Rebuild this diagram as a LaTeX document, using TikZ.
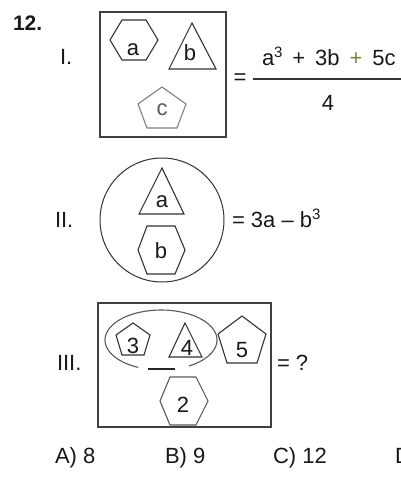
\documentclass[tikz,border=0pt]{standalone}
\usepackage{fontspec}
\setmainfont{Liberation Sans}
\begin{document}
\begin{tikzpicture}[x=1pt,y=-1pt,
  txt/.style={inner sep=0pt,outer sep=0pt,anchor=base,text=black!90,font=\fontsize{22}{26}\selectfont},
  txtl/.style={txt,anchor=base west},
  frame/.style={draw=black!75,line width=1.3pt},
  shp/.style={draw=black!80,line width=1.1pt,line join=miter},
  lshp/.style={draw=black!50,line width=1.1pt}]
\clip (0,0) rectangle (401,488);
\fill[white] (0,0) rectangle (401,488);
% ---- I ----
\node[txtl,font=\fontsize{21}{25}\selectfont\bfseries] (n12) at (13,30) {12.};
\node[txtl] (r1) at (60,64) {I.};
\draw[frame] (100,12) rectangle (226,137);
\draw[shp] (110,40) -- (122,20) -- (146,20) -- (158,40) -- (146,60) -- (122,60) -- cycle;
\node[txt] (la) at (133,55) {a};
\draw[shp] (192,23) -- (216,69) -- (169,69) -- cycle;
\node[txt] (lb) at (190,60) {b};
\draw[lshp] (162,87) -- (186,104) -- (177,128) -- (147,128) -- (138,104) -- cycle;
\node[txt,text=black!65] (lc) at (162,115) {c};
\node[txt] (eq1) at (240,84) {=};
\node[txtl] (num) at (262,65) {a\raisebox{0.36em}{\fontsize{15}{17}\selectfont 3}\hspace{0.45em}+\hspace{0.45em}3b\hspace{0.45em}\textcolor[HTML]{6E8A3C}{+}\hspace{0.45em}5c};
\draw[black!80,line width=1.1pt] (253,79) -- (402,79);
\node[txt] (den) at (328,110) {4};
% ---- II ----
\node[txtl] (r2) at (55,227) {II.};
\draw[shp,line width=1pt] (162,220) circle (62);
\draw[shp] (162,168) -- (184,214) -- (139,214) -- cycle;
\node[txt] (la2) at (162,207) {a};
\draw[shp] (147,226) -- (175,226) -- (185,250) -- (175,274) -- (147,274) -- (138,250) -- cycle;
\node[txt] (lb2) at (161,258) {b};
\node[txtl] (rhs2) at (232,227) {= 3a – b\raisebox{0.36em}{\fontsize{15}{17}\selectfont 3}};
% ---- III ----
\node[txtl] (r3) at (57,370) {III.};
\draw[frame] (98,303) rectangle (271,427);
\draw[black!65,line width=1.1pt] (161,340) ++(114:56 and 30) arc[start angle=114,end angle=420,x radius=56,y radius=30];
\draw[black!85,line width=2pt] (148,369) -- (175,369);
\draw[shp] (133,323) -- (150,335) -- (144,355) -- (122,355) -- (116,335) -- cycle;
\node[txt] (l3) at (133,353) {3};
\draw[shp] (185,323) -- (202,357) -- (169,357) -- cycle;
\node[txt] (l4) at (187,355) {4};
\draw[shp] (242,316) -- (266,334) -- (257,363) -- (227,363) -- (218,334) -- cycle;
\node[txt] (l5) at (242,357) {5};
\draw[shp,draw=black!65] (170,377) -- (196,377) -- (208,401) -- (196,425) -- (170,425) -- (160,401) -- cycle;
\node[txt] (l2) at (183,412) {2};
\node[txtl] (eq3) at (277,370) {= ?};
% ---- options ----
\node[txtl] (oa) at (55,463) {A) 8};
\node[txtl] (ob) at (165,463) {B) 9};
\node[txtl] (oc) at (273,463) {C) 12};
\node[txtl] (od) at (395,463) {D)};
\end{tikzpicture}
\end{document}
